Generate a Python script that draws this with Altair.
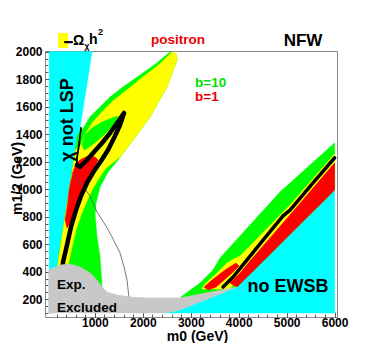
import altair as alt
import pandas as pd

FONT = "Liberation Sans"
X_DOMAIN = [-40, 6050]
Y_DOMAIN = [70, 2005]

# ---------------- region outlines (m0, m1/2 in GeV) ----------------
CYAN_LSP_M0 = [50, 940, 190, 140, 50]
CYAN_LSP_M12 = [2000, 2000, 339, 100, 100]

CYAN_EWSB_M0 = [6000, 6000, 3965, 2776, 2463]
CYAN_EWSB_M12 = [100, 994, 288, 121, 100]

GREEN_BAND_M0 = [6000, 4862, 3819, 3611, 3465, 3193, 2797, 2776, 3965, 6000]
GREEN_BAND_M12 = [1336, 979, 579, 499, 412, 317, 216, 172, 288, 994]

YELLOW_BAND_M0 = [6000, 5071, 4236, 4028, 3778, 3506, 3298, 3235, 3819, 4028, 4236, 5071, 6000]
YELLOW_BAND_M12 = [1256, 885, 587, 514, 470, 376, 310, 274, 274, 390, 477, 812, 1190]

RED_BAND_M0 = [6000, 5071, 4236, 4028, 3819, 3965, 6000]
RED_BAND_M12 = [1190, 812, 477, 390, 317, 288, 994]

RED_BUMP_M0 = [3277, 3444, 3715, 3944, 4007, 3861, 3694, 3527, 3360]
RED_BUMP_M12 = [288, 339, 412, 463, 441, 390, 339, 288, 266]

BLACK_BAND_M0 = [6000, 5550, 5071, 4925, 4508, 4174, 3882, 3673]
BLACK_BAND_M12 = [1227, 1045, 848, 805, 630, 485, 361, 288]

GREEN_FUNNEL_M0 = [2568, 2296, 1942, 1587, 1316, 1107, 899, 774, 640, 220, 160, 1170, 1149,
                   1107, 1045, 1003, 1024, 1107, 1274, 1483, 1796, 2150, 2505, 2714, 2693]
GREEN_FUNNEL_M12 = [1998, 1918, 1830, 1743, 1670, 1598, 1525, 1452, 1394, 448, 266, 266, 288,
                    507, 652, 812, 899, 1016, 1125, 1212, 1358, 1525, 1743, 1940, 1983]

YELLOW_FUNNEL_M0 = [2610, 2359, 2004, 1670, 1378, 1170, 961, 815, 711, 600, 240, 190, 398,
                    440, 523, 607, 711, 815, 940, 1086, 1232, 1525, 1796, 2150, 2505, 2714, 2693]
YELLOW_FUNNEL_M12 = [1998, 1910, 1816, 1721, 1641, 1569, 1489, 1408, 1321, 1285, 485, 339, 303,
                     448, 579, 703, 812, 899, 994, 1081, 1154, 1234, 1358, 1525, 1743, 1940, 1983]

GREEN_POCKET_M0 = [732, 794, 940, 1149, 1358, 1483, 1399, 1232, 1045, 857, 774]
GREEN_POCKET_M12 = [1321, 1394, 1445, 1489, 1518, 1532, 1474, 1408, 1350, 1299, 1285]

RED_FUNNEL_M0 = [590, 690, 857, 1003, 1066, 961, 836, 711, 607, 523, 419, 380, 430, 470, 530]
RED_FUNNEL_M12 = [1176, 1212, 1241, 1234, 1212, 1139, 1052, 958, 863, 776, 717, 776, 885, 1008, 1103]

BLACK_THIN_M0 = [711, 669, 627, 627]
BLACK_THIN_M12 = [1445, 1321, 1227, 1176]

BLACK_FUNNEL_M0 = [627, 690, 815, 982, 1149, 1316, 1462, 1608, 1525, 1399, 1274, 1128, 982,
                   836, 711, 607, 502, 419, 336, 315]
BLACK_FUNNEL_M12 = [1176, 1161, 1205, 1270, 1336, 1408, 1481, 1554, 1467, 1372, 1285, 1205, 1132,
                    1045, 950, 848, 725, 594, 470, 376]

GRAY_LINE_M0 = [523, 690, 899, 1045, 1232, 1358, 1525, 1608, 1671, 1712]
GRAY_LINE_M12 = [1125, 1052, 950, 834, 732, 652, 536, 434, 339, 208]

EXCLUDED_M0 = [40, 40, 270, 480, 690, 900, 1045, 1150, 1253, 1462, 1733, 2150, 2776, 3965, 2776, 2463]
EXCLUDED_M12 = [100, 412, 448, 455, 434, 390, 339, 288, 252, 230, 215, 208, 208, 288, 121, 100]

# ---------------- axis ticks ----------------
X_MAJOR = [1000, 2000, 3000, 4000, 5000, 6000]
X_MINOR = list(range(200, 6001, 200))
Y_MAJOR = list(range(200, 2001, 200))
Y_MINOR = list(range(100, 2001, 50))

# ---------------- legend symbol ----------------
LEGEND_BOX_M0 = [231, 440]
LEGEND_BOX_M12 = [2027, 2136]
LEGEND_LINE_M0 = [377, 523]
LEGEND_LINE_M12 = [2070, 2070]


def poly_df(items):
    rows = []
    for name, xs_, ys_ in items:
        for i, (a, b) in enumerate(zip(xs_, ys_)):
            rows.append({"region": name, "idx": i, "m0": a, "m12": b})
    return pd.DataFrame(rows)


xs = alt.Scale(domain=X_DOMAIN, nice=False, zero=False)
ys = alt.Scale(domain=Y_DOMAIN, nice=False, zero=False)


def X(axis=None):
    return alt.X("m0:Q", scale=xs, axis=axis)


def Y(axis=None):
    return alt.Y("m12:Q", scale=ys, axis=axis)


def poly(items, color, xaxis=None, yaxis=None):
    return alt.Chart(poly_df(items)).mark_line(
        fill=color, stroke=color, strokeWidth=0.6, interpolate="linear-closed"
    ).encode(x=X(xaxis), y=Y(yaxis), order="idx:Q", detail="region:N")


def path(items, color, width):
    return alt.Chart(poly_df(items)).mark_line(
        color=color, strokeWidth=width, strokeJoin="round", strokeCap="round"
    ).encode(x=X(), y=Y(), order="idx:Q", detail="region:N")


x_major_axis = alt.Axis(
    orient="bottom", values=X_MAJOR, format="d", domain=False, grid=False,
    offset=-5, tickSize=5, tickColor="#555", labelPadding=0,
    labelFont=FONT, labelFontSize=12, labelFontWeight="bold", labelColor="black",
    title="m0 (GeV)", titleFont=FONT, titleFontSize=14, titleFontWeight="bold",
    titleColor="black", titleX=152, titleY=24.5, titleBaseline="middle", titleAlign="center",
)
y_major_axis = alt.Axis(
    orient="left", values=Y_MAJOR, format="d", domain=False, grid=False,
    offset=-5, tickSize=5, tickColor="#555", labelPadding=3,
    labelFont=FONT, labelFontSize=12, labelFontWeight="bold", labelColor="black",
    title="m1/2 (GeV)", titleFont=FONT, titleFontSize=14, titleFontWeight="bold",
    titleColor="black", titleX=-33, titleY=127, titleBaseline="middle", titleAlign="center",
)
x_minor_axis = alt.Axis(orient="bottom", values=X_MINOR, labels=False, domain=False, grid=False,
                        offset=-3, tickSize=3, tickColor="#555", title=None)
y_minor_axis = alt.Axis(orient="left", values=Y_MINOR, labels=False, domain=False, grid=False,
                        offset=-3, tickSize=3, tickColor="#555", title=None)

CYAN = "#00ffff"
GREEN = "#00ff00"
YELLOW = "#ffff00"
RED = "#ff0000"
GRAY = "#c8c8c8"

layers = [
    poly([("lsp", CYAN_LSP_M0, CYAN_LSP_M12), ("ewsb", CYAN_EWSB_M0, CYAN_EWSB_M12)], CYAN,
         x_major_axis, y_major_axis),
    poly([("gb", GREEN_BAND_M0, GREEN_BAND_M12), ("gf", GREEN_FUNNEL_M0, GREEN_FUNNEL_M12)], GREEN),
    poly([("yb", YELLOW_BAND_M0, YELLOW_BAND_M12), ("yf", YELLOW_FUNNEL_M0, YELLOW_FUNNEL_M12)], YELLOW),
    poly([("gp", GREEN_POCKET_M0, GREEN_POCKET_M12)], GREEN),
    poly([("rb", RED_BAND_M0, RED_BAND_M12), ("rbump", RED_BUMP_M0, RED_BUMP_M12),
          ("rf", RED_FUNNEL_M0, RED_FUNNEL_M12)], RED),
    path([("gl", GRAY_LINE_M0, GRAY_LINE_M12)], "#555555", 0.8),
    path([("bt", BLACK_THIN_M0, BLACK_THIN_M12)], "black", 1.8),
    path([("bf", BLACK_FUNNEL_M0, BLACK_FUNNEL_M12)], "black", 4.5),
    path([("bb", BLACK_BAND_M0, BLACK_BAND_M12)], "black", 3.5),
    poly([("ex", EXCLUDED_M0, EXCLUDED_M12)], GRAY, x_minor_axis, y_minor_axis),
]

box = pd.DataFrame({"m0": [LEGEND_BOX_M0[0]], "m0b": [LEGEND_BOX_M0[1]],
                    "m12": [LEGEND_BOX_M12[0]], "m12b": [LEGEND_BOX_M12[1]]})
layers.append(alt.Chart(box).mark_rect(color=YELLOW).encode(
    x=X(), x2="m0b:Q", y=Y(), y2="m12b:Q"))
layers.append(path([("leg", LEGEND_LINE_M0, LEGEND_LINE_M12)], "black", 2.2))


def text(label, m0, m12, size, color="black", align="center", angle=0):
    d = pd.DataFrame({"m0": [m0], "m12": [m12], "t": [label]})
    return alt.Chart(d).mark_text(
        font=FONT, fontWeight="bold", fontSize=size, color=color, align=align,
        baseline="middle", angle=angle
    ).encode(x=X(), y=Y(), text="t:N")


layers += [
    text("Ω", 660, 2078, 14),
    text("χ", 835, 2041, 9),
    text("h", 965, 2085, 14),
    text("2", 1115, 2143, 9),
    text("positron", 2734, 2085, 13.5, color="#ee0000"),
    text("NFW", 5342, 2078, 17),
    text("b=10", 3089, 1772, 13.5, color="#00e000", align="left"),
    text("b=1", 3089, 1670, 13.5, color="#ee0000", align="left"),
    text("χ not LSP", 440, 1503, 18, angle=270),
    text("no EWSB", 5029, 288, 18),
    text("Exp.", 210, 303, 13.5, align="left"),
    text("Excluded", 210, 136, 13.5, align="left"),
]

chart = alt.layer(*layers).resolve_axis(x="independent", y="independent").properties(
    width=292, height=266,
    autosize=alt.AutoSizeParams(type="none"),
    padding={"left": 37, "top": 43, "right": 29, "bottom": 26},
    background="white",
).configure_view(stroke="#888888", strokeWidth=1)

chart.save("out.html", embed_options={"renderer": "svg", "actions": False})
